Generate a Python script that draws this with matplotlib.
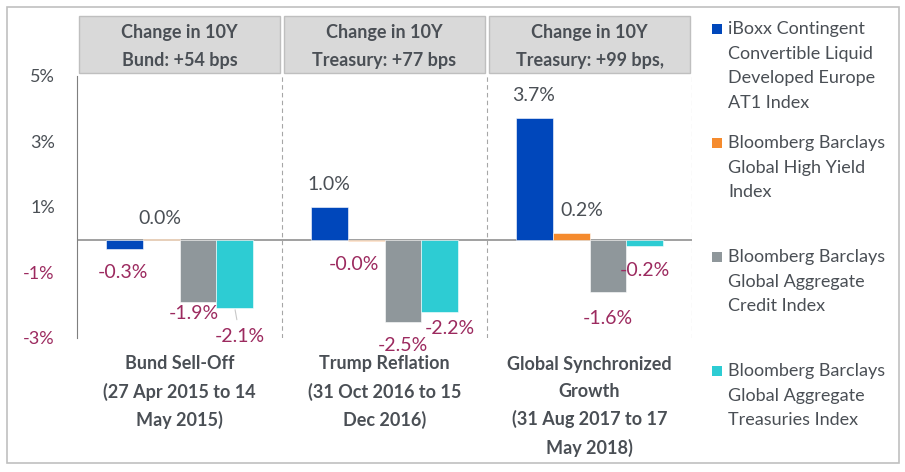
import numpy as np
import matplotlib.pyplot as plt
from matplotlib.patches import Rectangle
from matplotlib.transforms import blended_transform_factory

plt.rcParams['font.family'] = ['Lato', 'DejaVu Sans']

# the three rate sell-off episodes
periods = ['Bund Sell-Off\n(27 Apr 2015 to 14\nMay 2015)',
           'Trump Reflation\n(31 Oct 2016 to 15\nDec 2016)',
           'Global Synchronized\nGrowth\n(31 Aug 2017 to 17\nMay 2018)']
headers = ['Change in 10Y\nBund: +54 bps',
           'Change in 10Y\nTreasury: +77 bps',
           'Change in 10Y\nTreasury: +99 bps,']

series_names = ['iBoxx Contingent\nConvertible Liquid\nDeveloped Europe\nAT1 Index',
                'Bloomberg Barclays\nGlobal High Yield\nIndex',
                'Bloomberg Barclays\nGlobal Aggregate\nCredit Index',
                'Bloomberg Barclays\nGlobal Aggregate\nTreasuries Index']

# total return in % per period
at1 = [-0.3, 1.0, 3.7]
high_yield = [0.01, -0.03, 0.2]
agg_credit = [-1.9, -2.5, -1.6]
agg_treasuries = [-2.1, -2.2, -0.2]

y_ticks = [-3, -1, 1, 3, 5]

colors = ['#0047bb', '#f58b2e', '#8f979b', '#2dccd3']
dark = '#4a4f55'
neg = '#9c2a5f'

# label offsets (pixels) from bar end, per series per period - excel put them a bit all over
label_dx = [[-1, 0, -1], [-1, -12, 11], [-4, 0, 0], [5, 10, 0]]
label_dy = [[-23, 22, 23], [21, -24, 23], [-12, -24, -26], [-28, -17, -24]]

series = [at1, high_yield, agg_credit, agg_treasuries]
x = np.arange(len(periods))
width = 0.18

fig = plt.figure(figsize=(9.05, 4.72), dpi=100)
ax = fig.add_axes([77 / 905, 134 / 472, 615 / 905, 262.5 / 472])

for i, vals in enumerate(series):
    pos = x + (i - 1.5) * width
    ax.bar(pos, vals, width, color=colors[i], edgecolor='white', linewidth=0.4, zorder=2)
    for j, v in enumerate(vals):
        arrow = None
        if i == 3 and j == 0:
            arrow = dict(arrowstyle='-', color='#c8c8c8', lw=0.8, shrinkA=4, shrinkB=1)
        ax.annotate(f'{v:.1f}%', (pos[j], v), xytext=(label_dx[i][j], label_dy[i][j]),
                    textcoords='offset pixels', ha='center', va='center',
                    fontsize=14, color=neg if v < 0 else dark, arrowprops=arrow,
                    zorder=3)

ax.axhline(0, color='#868686', lw=1.1, zorder=1)
for sep in [0.5, 1.5, 2.5]:
    ax.axvline(sep, color='#a6a6a6', lw=0.8, ls=(0, (4, 3)), zorder=1)

ax.set_xlim(-0.5, 2.5)
ax.set_ylim(-3, 5)
ax.set_yticks(y_ticks)
ax.set_yticklabels([f'{t}%' for t in y_ticks])
ax.tick_params(axis='y', length=0, pad=16, labelsize=13)
for t, lab in zip(y_ticks, ax.get_yticklabels()):
    lab.set_color(neg if t < 0 else dark)
ax.set_xticks([])
for s in ['top', 'right', 'bottom']:
    ax.spines[s].set_visible(False)
ax.spines['left'].set_color('#7f7f7f')

ax_h = 262.5  # axes height in px, used to put text by pixel rows
trans = blended_transform_factory(ax.transData, ax.transAxes)
for j in range(len(periods)):
    ax.add_patch(Rectangle((x[j] - 0.49, 1.0095), 0.98, 0.217, transform=trans,
                           clip_on=False, facecolor='#d9d9d9', edgecolor='#bfbfbf', lw=1))
    # baseline of the last line (multiline baseline = last line here)
    ax.text(x[j], (338 - 66) / ax_h, headers[j], transform=trans, ha='center', va='baseline',
            fontsize=13, fontweight='bold', color=dark, linespacing=1.76)
    n = periods[j].count('\n')
    ax.text(x[j], (338 - (371.7 + 27.3 * n)) / ax_h, periods[j], transform=trans,
            ha='center', va='baseline', fontsize=13, fontweight='bold', color=dark,
            linespacing=1.69)

# legend by hand, excel spacing
for i, name in enumerate(series_names):
    top = 24 + 114 * i
    fig.patches.append(Rectangle((712 / 905, 1 - (top + 10) / 472), 10 / 905, 10 / 472,
                                 transform=fig.transFigure, facecolor=colors[i]))
    n = name.count('\n')
    fig.text(728 / 905, 1 - (34.5 + 114 * i + 24.4 * n) / 472, name, ha='left', va='baseline',
             multialignment='left', fontsize=13, color=dark, linespacing=1.65)

fig.patches.append(Rectangle((7 / 905, 9 / 472), 892 / 905, 456 / 472, fill=False,
                             edgecolor='#c0c0c0', lw=1.2, transform=fig.transFigure))

fig.savefig('out.png', dpi=100)
